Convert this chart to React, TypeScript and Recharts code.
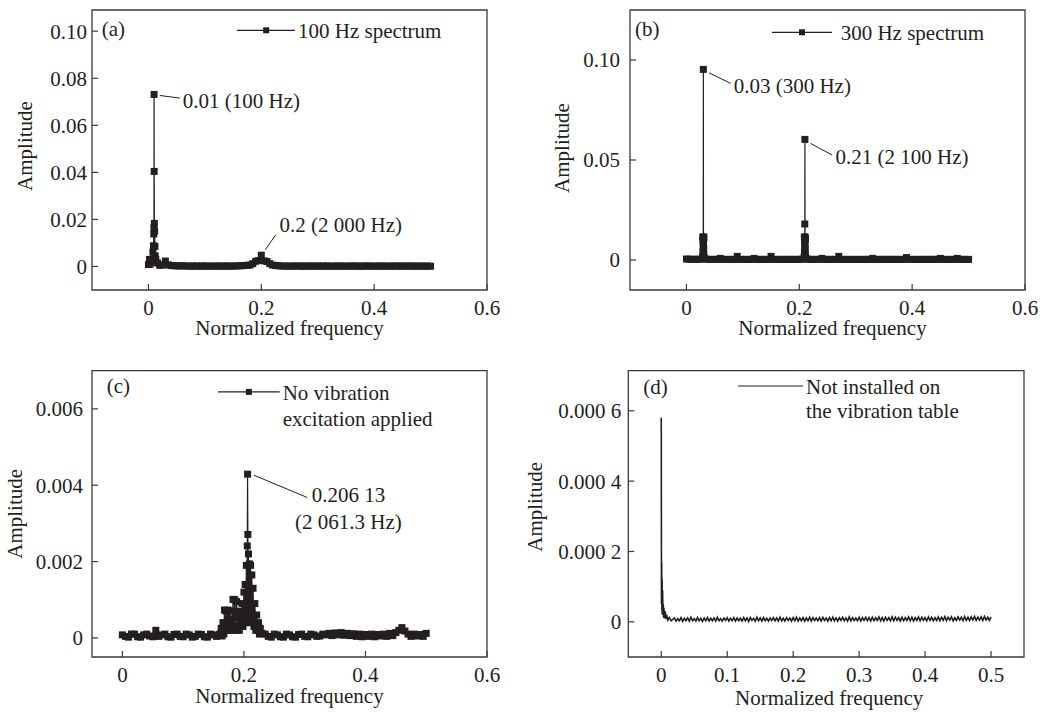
import React from "react";
import { LineChart, Line, XAxis, YAxis, ReferenceArea, ReferenceDot, Legend } from "recharts";

const FONT = '"Liberation Serif", "Times New Roman", serif';
const INK = "#231f20";
const FRAME = "#3a3a3a";

// (a) 100 Hz excitation
const freqA = [
  0, 0.002, 0.003, 0.005, 0.006, 0.008, 0.009, 0.0095, 0.0098, 0.01, 0.0102, 0.0105, 0.011, 0.0115, 0.012, 0.013, 0.016, 0.02, 0.025, 0.03, 0.035, 0.04,
  0.045, 0.05, 0.055, 0.06, 0.065, 0.07, 0.075, 0.08, 0.085, 0.09, 0.095, 0.1, 0.105, 0.11, 0.115, 0.12, 0.125, 0.13, 0.135, 0.14, 0.145, 0.15, 0.155, 0.16,
  0.165, 0.17, 0.175, 0.18,
  0.185, 0.19, 0.195, 0.2, 0.205, 0.21, 0.215, 0.22, 0.225, 0.23,
  0.235, 0.24, 0.245, 0.25, 0.255, 0.26, 0.265, 0.27, 0.275, 0.28, 0.285, 0.29, 0.295, 0.3, 0.305, 0.31, 0.315, 0.32, 0.325, 0.33, 0.335, 0.34, 0.345,
  0.35, 0.355, 0.36, 0.365, 0.37, 0.375, 0.38, 0.385, 0.39, 0.395, 0.4, 0.405, 0.41, 0.415, 0.42, 0.425, 0.43, 0.435, 0.44, 0.445, 0.45, 0.455, 0.46,
  0.465, 0.47, 0.475, 0.48, 0.485, 0.49, 0.495, 0.5,
];
const ampA = [
  0.0008, 0.003, 0.001, 0.0025, 0.002, 0.006, 0.0088, 0.0138, 0.0165, 0.0731, 0.0404, 0.0183, 0.015, 0.0085, 0.0045, 0.003, 0.0015, 0.0005, 0.0006, 0.0023, 0.0007, 0.0004,
  0.0003, 0.0003, 0.0002, 0.0003, 0.0002, 0.0002, 0.0001, 0.0002, 0.0002, 0.0001, 0.0002, 0.0002, 0.0001, 0.0002, 0.0001, 0.0002, 0.0002, 0.0001, 0.0002, 0.0002,
  0.0001, 0.0002, 0.0002, 0.0003, 0.0003, 0.0004, 0.0005, 0.0006,
  0.0012, 0.0022, 0.0025, 0.0048, 0.0024, 0.0021, 0.0012, 0.0006, 0.0004, 0.0003,
  0.0002, 0.0002, 0.0001, 0.0002, 0.0001, 0.0002, 0.0002, 0.0001, 0.0002, 0.0001, 0.0002, 0.0002, 0.0001, 0.0002, 0.0001, 0.0002, 0.0002, 0.0001, 0.0002, 0.0001,
  0.0002, 0.0002, 0.0001, 0.0002, 0.0001, 0.0002, 0.0002, 0.0001, 0.0002, 0.0001, 0.0002, 0.0002, 0.0001, 0.0002, 0.0001, 0.0002, 0.0002, 0.0001, 0.0002, 0.0001,
  0.0002, 0.0002, 0.0001, 0.0002, 0.0001, 0.0002, 0.0002, 0.0001, 0.0002, 0.0001, 0.0002, 0.0001, 0.0002, 0.0001,
];

// (b) 300 Hz excitation
const freqB = [
  0, 0.005, 0.01, 0.015, 0.02, 0.025,
  0.0285, 0.029, 0.0292, 0.0294, 0.0296, 0.0298, 0.03, 0.0302, 0.0304, 0.0306, 0.0308, 0.031, 0.0315,
  0.035, 0.04, 0.045, 0.05, 0.055, 0.06, 0.065, 0.07, 0.075, 0.08, 0.085, 0.09, 0.095, 0.1, 0.105, 0.11, 0.115, 0.12, 0.125, 0.13, 0.135, 0.14, 0.145, 0.15,
  0.155, 0.16, 0.165, 0.17, 0.175, 0.18, 0.185, 0.19, 0.195, 0.2, 0.205,
  0.2085, 0.209, 0.2092, 0.2094, 0.2096, 0.2098, 0.21, 0.2102, 0.2104, 0.2106, 0.2108, 0.211, 0.2115,
  0.215, 0.22, 0.225, 0.23, 0.235, 0.24, 0.245, 0.25, 0.255, 0.26, 0.265, 0.27, 0.275, 0.28, 0.285, 0.29, 0.295, 0.3, 0.305, 0.31, 0.315, 0.32, 0.325, 0.33,
  0.335, 0.34, 0.345, 0.35, 0.355, 0.36, 0.365, 0.37, 0.375, 0.38, 0.385, 0.39, 0.395, 0.4, 0.405, 0.41, 0.415, 0.42, 0.425, 0.43, 0.435, 0.44, 0.445, 0.45,
  0.455, 0.46, 0.465, 0.47, 0.475, 0.48, 0.485, 0.49, 0.495, 0.5,
];
const ampB = [
  0.0005, 0.0004, 0.0003, 0.0004, 0.0003, 0.0004,
  0.0015, 0.0115, 0.004, 0.0095, 0.007, 0.0105, 0.0953, 0.0085, 0.0115, 0.0055, 0.0025, 0.0112, 0.001,
  0.0004, 0.0003, 0.0003, 0.0003, 0.0003, 0.0008, 0.0003, 0.0003, 0.0003, 0.0003, 0.0003, 0.0018, 0.0003, 0.0003, 0.0003, 0.0003, 0.0003, 0.0008, 0.0003, 0.0003,
  0.0003, 0.0003, 0.0003, 0.0018, 0.0003, 0.0003, 0.0003, 0.0003, 0.0003, 0.0003, 0.0003, 0.0003, 0.0003, 0.0003, 0.0004,
  0.0015, 0.0115, 0.004, 0.0095, 0.007, 0.018, 0.0603, 0.0085, 0.0115, 0.0055, 0.0025, 0.0105, 0.001,
  0.0004, 0.0003, 0.0003, 0.0003, 0.0003, 0.0008, 0.0003, 0.0003, 0.0003, 0.0003, 0.0003, 0.0018, 0.0003, 0.0003, 0.0003, 0.0003, 0.0003, 0.0003, 0.0003, 0.0003,
  0.0003, 0.0003, 0.0003, 0.0008, 0.0003, 0.0003, 0.0003, 0.0003, 0.0003, 0.0003, 0.0003, 0.0003, 0.0003, 0.0003, 0.0003, 0.0012, 0.0003, 0.0003, 0.0003, 0.0003,
  0.0003, 0.0003, 0.0003, 0.0003, 0.0003, 0.0003, 0.0003, 0.0008, 0.0003, 0.0003, 0.0003, 0.0003, 0.0003, 0.0008, 0.0003, 0.0003, 0.0003, 0.0003,
];

// (c) no vibration excitation
const freqC = [
  0, 0.005, 0.01, 0.015, 0.02, 0.025, 0.03, 0.035, 0.04, 0.045, 0.05, 0.055, 0.06, 0.065, 0.07, 0.075, 0.08, 0.085, 0.09, 0.095, 0.1, 0.105, 0.11, 0.115,
  0.12, 0.125, 0.13, 0.135, 0.14, 0.145, 0.15, 0.155,
  0.16, 0.1625, 0.164, 0.1655, 0.167, 0.168, 0.1695, 0.171, 0.1725, 0.174, 0.1755, 0.177, 0.178, 0.1795,
  0.181, 0.182, 0.1835, 0.185, 0.1865, 0.188, 0.1895, 0.191, 0.1925, 0.194, 0.1955, 0.197, 0.1985,
  0.2, 0.201, 0.202, 0.203, 0.204, 0.205, 0.2055, 0.206, 0.2065, 0.207, 0.2075, 0.208, 0.209, 0.21,
  0.211, 0.212, 0.213, 0.214, 0.215, 0.2165, 0.218, 0.2195, 0.221, 0.2225, 0.224, 0.2255, 0.227, 0.23,
  0.235, 0.24, 0.245, 0.25, 0.255, 0.26, 0.265, 0.27, 0.275, 0.28, 0.285, 0.29, 0.295, 0.3, 0.305, 0.31, 0.315, 0.32, 0.325, 0.33, 0.335, 0.34, 0.345,
  0.35, 0.355, 0.36, 0.365, 0.37, 0.375, 0.38, 0.385, 0.39, 0.395, 0.4, 0.405, 0.41, 0.415, 0.42, 0.425, 0.43, 0.435, 0.44, 0.445, 0.45, 0.455, 0.46,
  0.465, 0.47, 0.475, 0.48, 0.485, 0.49, 0.495, 0.5,
];
const ampC = [
  0.00008, 0.00004, 0.00002, 0.0001, 0.0001, 0.00003, 0.00002, 0.00008, 0.0001, 0.00005, 0.00003, 0.0002, 0.00004, 0.00008, 0.0001, 0.00003, 0.00002, 0.00009,
  0.0001, 0.00004, 0.00003, 0.0001, 0.00008, 0.00002, 0.00004, 0.0001, 0.00009, 0.00003, 0.00002, 0.0001, 0.00008, 0.00004,
  0.0001, 0.00025, 0.00005, 0.0004, 0.0001, 0.00073, 0.0002, 0.0007, 0.0002, 0.00073, 0.0003, 0.0007, 0.0002, 0.0005,
  0.0002, 0.00101, 0.0003, 0.001, 0.0003, 0.00095, 0.0002, 0.00058, 0.0002, 0.0007, 0.0003, 0.0009, 0.0003,
  0.0012, 0.0004, 0.0014, 0.0004, 0.0019, 0.0006, 0.00241, 0.00429, 0.00271, 0.0005, 0.0022, 0.0006, 0.00194, 0.0005,
  0.0019, 0.0004, 0.00165, 0.0004, 0.0013, 0.0003, 0.0009, 0.0002, 0.0006, 0.0002, 0.0004, 0.0001, 0.00025, 0.00012,
  0.0001, 0.00004, 0.00002, 0.0001, 0.00008, 0.00003, 0.00002, 0.0001, 0.00008, 0.00003, 0.00002, 0.00009, 0.0001, 0.00004, 0.00003, 0.0001, 0.00008, 0.00004,
  0.00005, 0.0001, 0.00008, 0.00012, 0.00006, 0.00013, 0.00008, 0.00014, 0.00007, 0.00012, 0.00006, 0.00011, 0.00004, 0.0001, 0.00003, 0.00009, 0.00004,
  0.0001, 0.00003, 0.00009, 0.00005, 0.0001, 0.00004, 0.00012, 0.00006, 0.00014, 0.0002, 0.00027, 0.00018, 0.0001, 0.00004, 0.0001, 0.00005, 0.00009,
  0.00004, 0.00012,
];

// (d) not installed on the vibration table, amplitudes in units of 1e-6
const ampDScale = 1e-6;
const freqD = [
  0, 0.0003, 0.0006, 0.001, 0.0013, 0.0016, 0.002, 0.0025, 0.003, 0.0035, 0.004, 0.005, 0.006, 0.007, 0.008, 0.01, 0.012, 0.015,
  0.02, 0.0225, 0.025, 0.0275, 0.03, 0.0325, 0.035, 0.0375, 0.04, 0.0425, 0.045, 0.0475, 0.05, 0.0525, 0.055, 0.0575, 0.06, 0.0625, 0.065, 0.0675,
  0.07, 0.0725, 0.075, 0.0775, 0.08, 0.0825, 0.085, 0.0875, 0.09, 0.0925, 0.095, 0.0975, 0.1, 0.1025, 0.105, 0.1075, 0.11, 0.1125, 0.115, 0.1175,
  0.12, 0.1225, 0.125, 0.1275, 0.13, 0.1325, 0.135, 0.1375, 0.14, 0.1425, 0.145, 0.1475, 0.15, 0.1525, 0.155, 0.1575, 0.16, 0.1625, 0.165, 0.1675,
  0.17, 0.1725, 0.175, 0.1775, 0.18, 0.1825, 0.185, 0.1875, 0.19, 0.1925, 0.195, 0.1975, 0.2, 0.2025, 0.205, 0.2075, 0.21, 0.2125, 0.215, 0.2175,
  0.22, 0.2225, 0.225, 0.2275, 0.23, 0.2325, 0.235, 0.2375, 0.24, 0.2425, 0.245, 0.2475, 0.25, 0.2525, 0.255, 0.2575, 0.26, 0.2625, 0.265, 0.2675,
  0.27, 0.2725, 0.275, 0.2775, 0.28, 0.2825, 0.285, 0.2875, 0.29, 0.2925, 0.295, 0.2975, 0.3, 0.3025, 0.305, 0.3075, 0.31, 0.3125, 0.315, 0.3175,
  0.32, 0.3225, 0.325, 0.3275, 0.33, 0.3325, 0.335, 0.3375, 0.34, 0.3425, 0.345, 0.3475, 0.35, 0.3525, 0.355, 0.3575, 0.36, 0.3625, 0.365, 0.3675,
  0.37, 0.3725, 0.375, 0.3775, 0.38, 0.3825, 0.385, 0.3875, 0.39, 0.3925, 0.395, 0.3975, 0.4, 0.4025, 0.405, 0.4075, 0.41, 0.4125, 0.415, 0.4175,
  0.42, 0.4225, 0.425, 0.4275, 0.43, 0.4325, 0.435, 0.4375, 0.44, 0.4425, 0.445, 0.4475, 0.45, 0.4525, 0.455, 0.4575, 0.46, 0.4625, 0.465, 0.4675,
  0.47, 0.4725, 0.475, 0.4775, 0.48, 0.4825, 0.485, 0.4875, 0.49, 0.4925, 0.495, 0.4975, 0.5,
];
const ampD = [
  580, 50, 170, 30, 120, 20, 90, 20, 50, 12, 40, 10, 30, 8, 20, 5, 12, 3,
  11, 2, 9, 3, 12, 1, 10, 3, 11, 2, 13, 3, 9, 2, 12, 3, 10, 1, 11, 3,
  12, 2, 10, 3, 11, 2, 13, 3, 9, 2, 11, 4, 12, 2, 10, 3, 12, 2, 11, 3,
  10, 2, 12, 3, 11, 1, 12, 4, 10, 2, 13, 3, 11, 2, 12, 3, 10, 2, 11, 4,
  12, 3, 11, 2, 13, 3, 10, 2, 12, 4, 11, 2, 12, 3, 13, 2, 11, 3, 12, 2,
  11, 3, 13, 2, 12, 4, 11, 3, 12, 2, 13, 4, 11, 2, 12, 3, 13, 3, 11, 2,
  12, 4, 13, 3, 11, 2, 14, 3, 12, 4, 11, 3, 13, 2, 12, 4, 13, 3, 12, 2,
  13, 3, 12, 4, 14, 3, 12, 2, 13, 4, 12, 3, 14, 3, 13, 4, 12, 2, 13, 3,
  12, 4, 14, 3, 13, 2, 12, 4, 14, 3, 13, 4, 12, 3, 14, 4, 13, 3, 12, 4,
  14, 3, 13, 4, 15, 3, 13, 5, 14, 3, 12, 4, 14, 5, 13, 3, 15, 4, 13, 4,
  14, 5, 15, 4, 13, 5, 14, 4, 15, 5, 13, 4, 14,
];

const xTicksWide = [0, 0.2, 0.4, 0.6];
const xTicksD = [0, 0.1, 0.2, 0.3, 0.4, 0.5];
const yTicksA = [0, 0.02, 0.04, 0.06, 0.08, 0.1];
const yLabelsA = ["0", "0.02", "0.04", "0.06", "0.08", "0.10"];
const yTicksB = [0, 0.05, 0.1];
const yLabelsB = ["0", "0.05", "0.10"];
const yTicksC = [0, 0.002, 0.004, 0.006];
const yLabelsC = ["0", "0.002", "0.004", "0.006"];
const yTicksD = [0, 0.0002, 0.0004, 0.0006];
const yLabelsD = ["0", "0.000 2", "0.000 4", "0.000 6"];

type Callout = { f: number; a: number; lead: number[]; text: string[]; tx: number; ty: number; anchor: "start" | "middle" };

type PanelProps = {
  freq: number[];
  amp: number[];
  scale?: number;
  height: number;
  top: number;
  right: number;
  yAxisWidth: number;
  xAxisHeight: number;
  xDomain: [number, number];
  yDomain: [number, number];
  xTicks: number[];
  yTicks: number[];
  yLabels: string[];
  yTickMargin: number;
  markers: boolean;
  tag: string;
  tagDx: number;
  tagDy: number;
  yTitleX: number;
  yTitleDy: number;
  xTitleDx: number;
  xTitleDy: number;
  legend: { left: number; top: number; len: number; gap: number; lineY: number; lh: number; lines: string[] };
  callouts: Callout[];
};

const SQ = 7;
const squareDot = (p: any) => {
  if (p.cx == null || p.cy == null) return <g key={`sq-${p.index}`} />;
  return <rect key={`sq-${p.index}`} x={p.cx - SQ / 2} y={p.cy - SQ / 2} width={SQ} height={SQ} fill={INK} />;
};

function calloutLabel(c: Callout) {
  return (p: any) => {
    const vb = p.viewBox || { x: 0, y: 0, width: 0, height: 0 };
    const cx = vb.x + vb.width / 2;
    const cy = vb.y + vb.height / 2;
    return (
      <g>
        <line x1={cx + c.lead[0]} y1={cy + c.lead[1]} x2={cx + c.lead[2]} y2={cy + c.lead[3]} stroke={INK} strokeWidth={1} />
        <text x={cx + c.tx} y={cy + c.ty} textAnchor={c.anchor} fontFamily={FONT} fontSize={21} fill={INK}>
          {c.text.map((t, i) => (
            <tspan key={i} x={cx + c.tx} dy={i === 0 ? 0 : 26.7}>
              {t}
            </tspan>
          ))}
        </text>
      </g>
    );
  };
}

function LegendBox({ lg, markers }: { lg: PanelProps["legend"]; markers: boolean }) {
  return (
    <div style={{ display: "flex", alignItems: "flex-start", fontFamily: FONT, fontSize: 21, color: INK, lineHeight: `${lg.lh}px`, whiteSpace: "nowrap" }}>
      <svg width={lg.len} height={lg.lh} style={{ display: "block", flex: "none" }}>
        <line x1={0} x2={lg.len} y1={lg.lineY} y2={lg.lineY} stroke={INK} strokeWidth={1.2} />
        {markers && <rect x={lg.len / 2 - 3} y={lg.lineY - 3} width={6} height={6} fill={INK} />}
      </svg>
      <div style={{ marginLeft: lg.gap }}>
        {lg.lines.map((l) => (
          <div key={l}>{l}</div>
        ))}
      </div>
    </div>
  );
}

function Panel(p: PanelProps) {
  const k = p.scale ?? 1;
  const data = p.freq.map((f, i) => ({ f, a: p.amp[i] * k }));
  const tickStyle = { fontSize: 21, fontFamily: FONT, fill: INK };
  return (
    <LineChart width={520} height={p.height} data={data} margin={{ top: p.top, right: p.right, bottom: 0, left: 0 }}>
      <XAxis
        type="number"
        dataKey="f"
        domain={p.xDomain}
        ticks={p.xTicks}
        interval={0}
        allowDataOverflow
        height={p.xAxisHeight}
        axisLine={false}
        tickSize={-6}
        tickMargin={16}
        tickLine={{ stroke: FRAME, strokeWidth: 1.2 }}
        tick={tickStyle}
        label={(lp: any) => {
          const vb = lp.viewBox || {};
          return (
            <text x={vb.x + vb.width / 2 + p.xTitleDx} y={vb.y + 45 + p.xTitleDy} textAnchor="middle" fontFamily={FONT} fontSize={21} fill={INK}>
              Normalized frequency
            </text>
          );
        }}
      />
      <YAxis
        type="number"
        domain={p.yDomain}
        ticks={p.yTicks}
        interval={0}
        allowDataOverflow
        width={p.yAxisWidth}
        axisLine={false}
        tickSize={-6}
        tickMargin={p.yTickMargin}
        tickLine={{ stroke: FRAME, strokeWidth: 1.2 }}
        tick={tickStyle}
        tickFormatter={(v: number) => p.yLabels[p.yTicks.indexOf(v)] ?? String(v)}
        label={(lp: any) => {
          const vb = lp.viewBox || {};
          const cy = vb.y + vb.height / 2 + p.yTitleDy;
          return (
            <text x={p.yTitleX} y={cy} transform={`rotate(-90, ${p.yTitleX}, ${cy})`} textAnchor="middle" fontFamily={FONT} fontSize={21} fill={INK}>
              Amplitude
            </text>
          );
        }}
      />
      <ReferenceArea
        x1={p.xDomain[0]}
        x2={p.xDomain[1]}
        y1={p.yDomain[0]}
        y2={p.yDomain[1]}
        ifOverflow="visible"
        fill="none"
        fillOpacity={0}
        stroke={FRAME}
        strokeWidth={1.3}
        label={(lp: any) => {
          const vb = lp.viewBox || {};
          return (
            <text x={vb.x + p.tagDx} y={vb.y + p.tagDy} fontFamily={FONT} fontSize={21} fill={INK}>
              {p.tag}
            </text>
          );
        }}
      />
      <Line
        type="linear"
        dataKey="a"
        stroke={INK}
        strokeWidth={p.markers ? 1.2 : 1.6}
        dot={p.markers ? squareDot : false}
        activeDot={false}
        isAnimationActive={false}
      />
      {p.callouts.map((c, i) => (
        <ReferenceDot key={i} x={c.f} y={c.a} r={3} fill="none" stroke="none" ifOverflow="visible" label={calloutLabel(c)} />
      ))}
      <Legend
        layout="horizontal"
        verticalAlign="middle"
        align="center"
        wrapperStyle={{ left: p.legend.left, top: p.legend.top, width: "auto" }}
        content={() => <LegendBox lg={p.legend} markers={p.markers} />}
      />
    </LineChart>
  );
}

export default function App() {
  return (
    <div style={{ position: "absolute", left: 0, top: 0, width: 1040, height: 713, background: "#fff", overflow: "hidden" }}>
      <div style={{ position: "absolute", left: 0, top: 0 }}>
        <Panel
          freq={freqA}
          amp={ampA}
          height={340}
          top={10}
          right={33}
          yAxisWidth={92}
          xAxisHeight={50}
          xDomain={[-0.1, 0.6]}
          yDomain={[-0.01, 0.109]}
          xTicks={xTicksWide}
          yTicks={yTicksA}
          yLabels={yLabelsA}
          yTickMargin={11}
          markers
          tag="(a)"
          tagDx={9.7}
          tagDy={26}
          yTitleX={31.5}
          yTitleDy={-4}
          xTitleDx={0}
          xTitleDy={0}
          legend={{ left: 236.7, top: 19.4, len: 58.3, gap: 3, lineY: 11.3, lh: 25, lines: ["100 Hz spectrum"] }}
          callouts={[
            { f: 0.01, a: 0.0731, lead: [5.7, 1, 25.7, 3.6], text: ["0.01 (100 Hz)"], tx: 28.7, ty: 13.8, anchor: "start" },
            { f: 0.2, a: 0.0048, lead: [4, -5.3, 14.3, -20.3], text: ["0.2 (2 000 Hz)"], tx: 18.3, ty: -23.3, anchor: "start" },
          ]}
        />
      </div>
      <div style={{ position: "absolute", left: 520, top: 0 }}>
        <Panel
          freq={freqB}
          amp={ampB}
          height={340}
          top={10}
          right={15}
          yAxisWidth={110}
          xAxisHeight={50}
          xDomain={[-0.1, 0.6]}
          yDomain={[-0.015, 0.125]}
          xTicks={xTicksWide}
          yTicks={yTicksB}
          yLabels={yLabelsB}
          yTickMargin={16}
          markers
          tag="(b)"
          tagDx={5}
          tagDy={26}
          yTitleX={48.8}
          yTitleDy={-2}
          xTitleDx={5}
          xTitleDy={0}
          legend={{ left: 251.7, top: 21.4, len: 60, gap: 9, lineY: 11.3, lh: 25, lines: ["300 Hz spectrum"] }}
          callouts={[
            { f: 0.03, a: 0.0953, lead: [5.6, 3.4, 27.3, 14], text: ["0.03 (300 Hz)"], tx: 30.3, ty: 23.7, anchor: "start" },
            { f: 0.21, a: 0.0603, lead: [5.6, 4, 27.3, 15.7], text: ["0.21 (2 100 Hz)"], tx: 30.6, ty: 24.7, anchor: "start" },
          ]}
        />
      </div>
      <div style={{ position: "absolute", left: 0, top: 340 }}>
        <Panel
          freq={freqC}
          amp={ampC}
          height={373}
          top={30.7}
          right={33}
          yAxisWidth={92}
          xAxisHeight={56}
          xDomain={[-0.05, 0.6]}
          yDomain={[-0.0005, 0.007]}
          xTicks={xTicksWide}
          yTicks={yTicksC}
          yLabels={yLabelsC}
          yTickMargin={15}
          markers
          tag="(c)"
          tagDx={14.7}
          tagDy={22.3}
          yTitleX={22.2}
          yTitleDy={0}
          xTitleDx={0}
          xTitleDy={1}
          legend={{ left: 218.3, top: 40.4, len: 61.7, gap: 2.7, lineY: 11.9, lh: 26, lines: ["No vibration", "excitation applied"] }}
          callouts={[
            { f: 0.206, a: 0.00429, lead: [6.2, 1, 59.6, 23.3], text: ["0.206 13", "(2 061.3 Hz)"], tx: 100.9, ty: 28, anchor: "middle" },
          ]}
        />
      </div>
      <div style={{ position: "absolute", left: 520, top: 340 }}>
        <Panel
          freq={freqD}
          amp={ampD}
          scale={ampDScale}
          height={373}
          top={30.7}
          right={16}
          yAxisWidth={108.3}
          xAxisHeight={56}
          xDomain={[-0.05, 0.55]}
          yDomain={[-0.0001, 0.000714]}
          xTicks={xTicksD}
          yTicks={yTicksD}
          yLabels={yLabelsD}
          yTickMargin={13}
          markers={false}
          tag="(d)"
          tagDx={15}
          tagDy={23.3}
          yTitleX={22.2}
          yTitleDy={-7}
          xTitleDx={3}
          xTitleDy={3}
          legend={{ left: 218.3, top: 34.7, len: 65, gap: 2.7, lineY: 11, lh: 24.5, lines: ["Not installed on", "the vibration table"] }}
          callouts={[]}
        />
      </div>
    </div>
  );
}
